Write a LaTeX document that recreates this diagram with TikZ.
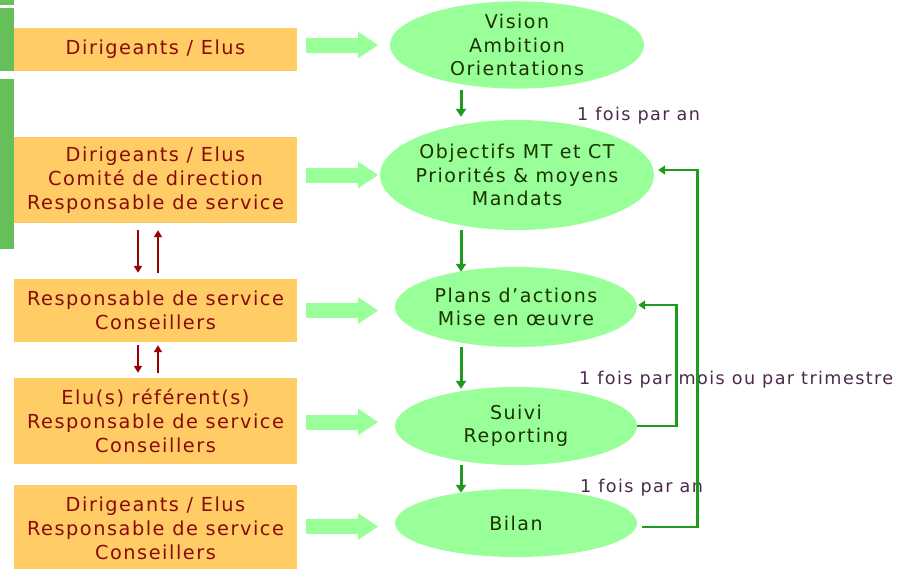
\documentclass[tikz,border=0pt]{standalone}
\usepackage{fontspec}
\setmainfont{DejaVu Sans}[LetterSpace=8]
\usetikzlibrary{shapes.geometric,arrows.meta}
\definecolor{boxor}{HTML}{FFCC66}
\definecolor{boxtx}{HTML}{8A0A0A}
\definecolor{elgreen}{HTML}{99FF99}
\definecolor{eltx}{HTML}{1A3300}
\definecolor{flowgreen}{HTML}{1E9A1E}
\definecolor{bargreen}{HTML}{66C05A}
\definecolor{darkred}{HTML}{990000}
\definecolor{labtx}{HTML}{4A2A4A}
\begin{document}
\begin{tikzpicture}[x=1pt,y=-1pt,
  box/.style={rectangle, fill=boxor, draw=none, minimum width=283pt, text=boxtx, align=center, inner sep=0pt, font=\fontsize{19.3}{24}\selectfont},
  stage/.style={ellipse, fill=elgreen, draw=none, text=eltx, align=center, inner sep=0pt, font=\fontsize{19}{23.5}\selectfont},
  bar/.style={fill=bargreen, draw=none},
  wide/.style={draw=elgreen, line width=15pt, -{Triangle[width=25pt,length=20pt]}},
  flow/.style={draw=flowgreen, line width=3pt, -{Triangle[width=10pt,length=8pt]}},
  fb/.style={draw=flowgreen, line width=2.8pt, -{Triangle[width=9pt,length=7pt]}},
  updown/.style={draw=darkred, line width=2.5pt, -{Triangle[width=8pt,length=7pt]}},
  lab/.style={anchor=west, text=labtx, inner sep=0pt, font=\fontsize{17.6}{20}\selectfont}
]
\useasboundingbox (0,0) rectangle (899,568);
% left bars
\fill[bar] (0,0) rectangle (14,5);
\fill[bar] (0,8) rectangle (14,70.5);
\fill[bar] (0,79) rectangle (14,249);
% boxes
\node[box, minimum height=43pt] (b1) at (155.5,49.5) {Dirigeants / Elus};
\node[box, minimum height=86pt] (b2) at (155.5,180) {Dirigeants / Elus\\Comité de direction\\Responsable de service};
\node[box, minimum height=63pt] (b3) at (155.5,310.5) {Responsable de service\\Conseillers};
\node[box, minimum height=86pt] (b4) at (155.5,421) {Elu(s) référent(s)\\Responsable de service\\Conseillers};
\node[box, minimum height=86pt] (b5) at (155.5,528) {Dirigeants / Elus\\Responsable de service\\Conseillers};
% ellipses
\node[stage, minimum width=254pt, minimum height=85pt] (e1) at (517,45) {Vision\\Ambition\\Orientations};
\node[stage, inner xsep=-12pt, minimum width=274pt, minimum height=110pt] (e2) at (517,175) {Objectifs MT et CT\\Priorités \& moyens\\Mandats};
\node[stage, minimum width=242pt, minimum height=80pt] (e3) at (516,307) {Plans d’actions\\Mise en œuvre};
\node[stage, minimum width=242pt, minimum height=78pt] (e4) at (516,426) {Suivi\\Reporting};
\node[stage, minimum width=242pt, minimum height=68pt] (e5) at (516,523) {Bilan};
% labels
\node[lab] (l1) at (577,116) {1 fois par an};
\node[lab] (l2) at (579,380) {1 fois par mois ou par trimestre};
\node[lab] (l3) at (580,488) {1 fois par an};
% wide arrows
\draw[wide] ([xshift=9pt,yshift=4.5pt]b1.east) -- ([xshift=81pt,yshift=4.5pt]b1.east);
\draw[wide] ([xshift=9pt,yshift=5pt]b2.east) -- ([xshift=81pt,yshift=5pt]b2.east);
\draw[wide] ([xshift=9pt]b3.east) -- ([xshift=81pt]b3.east);
\draw[wide] ([xshift=9pt,yshift=-1pt]b4.east) -- ([xshift=81pt,yshift=-1pt]b4.east);
\draw[wide] ([xshift=9pt,yshift=1.5pt]b5.east) -- ([xshift=81pt,yshift=1.5pt]b5.east);
% flow arrows
\draw[flow] ([xshift=-56pt,yshift=-1pt]e1.south) -- ([xshift=-56pt,yshift=3pt]e2.north);
\draw[flow] ([xshift=-56pt]e2.south) -- ([xshift=-55pt,yshift=-5pt]e3.north);
\draw[flow] ([xshift=-55pt]e3.south) -- ([xshift=-55pt,yshift=-2pt]e4.north);
\draw[flow] ([xshift=-55pt]e4.south) -- ([xshift=-55pt,yshift=-4pt]e5.north);
% feedback
\draw[fb] (e4.east) -- ++(39pt,0) |- ([xshift=1pt,yshift=2pt]e3.east);
\draw[fb] ([xshift=5pt,yshift=-4pt]e5.east) -- ++(55pt,0) |- ([xshift=4pt,yshift=5pt]e2.east);
% up/down arrows
\draw[updown] ([xshift=-17.5pt,yshift=-7pt]b2.south) -- ([xshift=-17.5pt,yshift=6pt]b3.north);
\draw[updown] ([xshift=2.5pt,yshift=6pt]b3.north) -- ([xshift=2.5pt,yshift=-7pt]b2.south);
\draw[updown] ([xshift=-17.5pt,yshift=-3pt]b3.south) -- ([xshift=-17.5pt,yshift=5pt]b4.north);
\draw[updown] ([xshift=2.5pt,yshift=5pt]b4.north) -- ([xshift=2.5pt,yshift=-3pt]b3.south);
\end{tikzpicture}
\end{document}
